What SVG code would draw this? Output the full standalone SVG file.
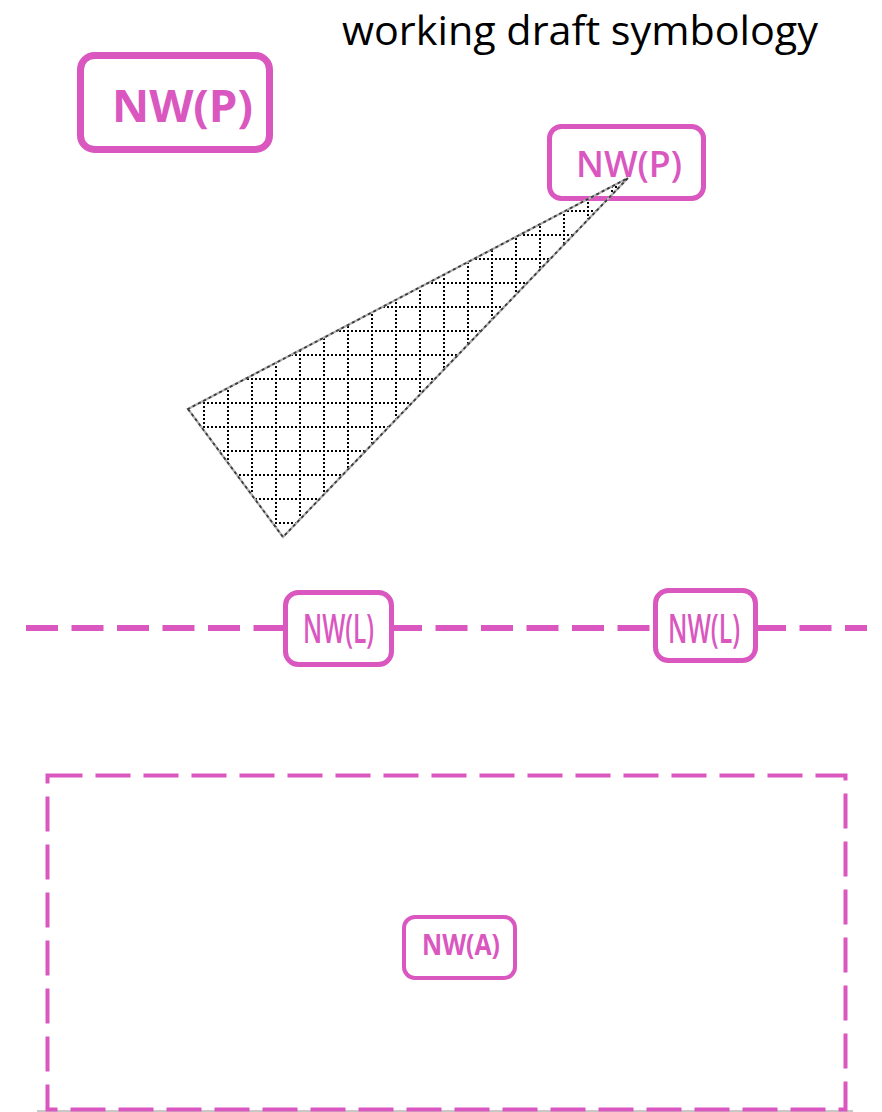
<svg xmlns="http://www.w3.org/2000/svg" width="882" height="1112" viewBox="0 0 882 1112">
  <style>
    .box { fill: #ffffff; stroke: #D957BF; }
    .lbl { fill: #D957BF; font-family: "Open Sans", "Liberation Sans", sans-serif; text-anchor: middle; }
    .title { fill: #000000; font-family: "Open Sans", "Liberation Sans", sans-serif; font-size: 41px; }
  </style>
  <defs>
    <pattern id="grid" patternUnits="userSpaceOnUse" x="203" y="402" width="24" height="24">
      <line x1="1" y1="0" x2="1" y2="24" stroke="#000" stroke-width="2" stroke-dasharray="2 2" shape-rendering="crispEdges"/>
      <line x1="0" y1="1" x2="24" y2="1" stroke="#000" stroke-width="2" stroke-dasharray="2 2" shape-rendering="crispEdges"/>
    </pattern>
  </defs>
  <rect width="882" height="1112" fill="#ffffff"/>

  <text class="title" x="342" y="45" textLength="476" lengthAdjust="spacingAndGlyphs">working draft symbology</text>

  <g id="nw-p-legend">
    <rect class="box" x="80.5" y="55.5" width="189" height="94" rx="14" stroke-width="7"/>
    <text class="lbl" x="182.5" y="122" font-size="45" font-weight="bold" textLength="141" lengthAdjust="spacingAndGlyphs">NW(P)</text>
  </g>

  <g id="nw-p-point">
    <rect class="box" x="549.5" y="126.5" width="154" height="72" rx="12" stroke-width="5"/>
    <text class="lbl" x="629" y="177" font-size="36" font-weight="600" textLength="106" lengthAdjust="spacingAndGlyphs">NW(P)</text>
  </g>

  <g id="view-cone">
    <polygon points="188,409 283,537 628,178" fill="url(#grid)" stroke="#b0b0b0" stroke-width="2.2"/>
    <polygon points="188,409 283,537 628,178" fill="none" stroke="#3a3a3a" stroke-width="1.8" stroke-dasharray="3 3"/>
  </g>

  <g id="connectors">
    <line x1="26" y1="628" x2="867" y2="628" stroke="#D957BF" stroke-width="6" stroke-dasharray="32 13.5"/>
  </g>

  <g id="nw-l-1">
    <rect class="box" x="285.5" y="592.5" width="106" height="72" rx="13" stroke-width="5"/>
    <text class="lbl" x="338.5" y="643" font-size="39" font-weight="600" textLength="71" lengthAdjust="spacingAndGlyphs">NW(L)</text>
  </g>

  <g id="nw-l-2">
    <rect class="box" x="655.5" y="590.5" width="100" height="70" rx="13" stroke-width="5"/>
    <text class="lbl" x="704" y="643" font-size="39" font-weight="600" textLength="72" lengthAdjust="spacingAndGlyphs">NW(L)</text>
  </g>

  <line x1="37" y1="1111" x2="853" y2="1111" stroke="#c8c8c8" stroke-width="2"/>

  <g id="nw-a-area">
    <rect x="47.5" y="775.5" width="798" height="334" fill="none" stroke="#D957BF" stroke-width="4" stroke-dasharray="35 13"/>
  </g>

  <g id="nw-a">
    <rect class="box" x="404" y="917" width="111" height="61" rx="11" stroke-width="4"/>
    <text class="lbl" x="461" y="955" font-size="29" font-weight="bold" textLength="78" lengthAdjust="spacingAndGlyphs">NW(A)</text>
  </g>
</svg>
